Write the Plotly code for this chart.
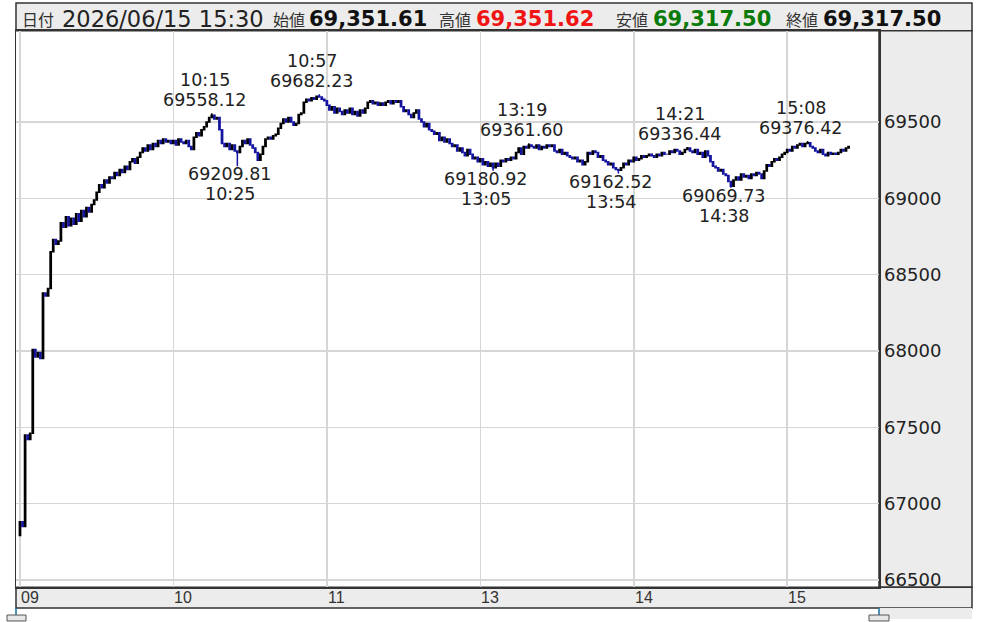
import plotly.graph_objects as go

# ---------------- data ----------------
first_open = 66790
closes = [
    66880, 66850, 67450, 67420, 67460, 68010, 67960, 67990, 67950, 68380,
    68360, 68410, 68650, 68730, 68700, 68720, 68840, 68810, 68880, 68820,
    68870, 68830, 68900, 68850, 68920, 68880, 68940, 68910, 68960, 68990,
    69040, 69090, 69070, 69120, 69100, 69140, 69130, 69170, 69150, 69190,
    69170, 69210, 69190, 69240, 69260, 69230, 69270, 69300, 69330, 69310,
    69350, 69320, 69360, 69340, 69380, 69360, 69390, 69370, 69380, 69360,
    69380, 69350, 69390, 69370, 69360, 69380, 69340, 69320, 69400, 69430,
    69410, 69450, 69470, 69500, 69530, 69545, 69520, 69530, 69450, 69360,
    69340, 69360, 69320, 69350, 69310, 69300, 69340, 69380, 69360, 69390,
    69350, 69330, 69300, 69250, 69290, 69340, 69390, 69400, 69390, 69410,
    69420, 69460, 69490, 69520, 69500, 69530, 69500, 69480, 69490, 69550,
    69560, 69630, 69650, 69640, 69660, 69650, 69670, 69665, 69650, 69640,
    69610, 69580, 69600, 69560, 69590, 69570, 69550, 69580, 69560, 69590,
    69550, 69570, 69540, 69580, 69560, 69590, 69630, 69640, 69620, 69630,
    69610, 69625, 69610, 69630, 69640, 69620, 69640, 69630, 69640, 69600,
    69570, 69580, 69550, 69530, 69560, 69580, 69520, 69500, 69470, 69490,
    69450, 69440, 69420, 69430, 69380, 69400, 69370, 69390, 69360, 69340,
    69350, 69310, 69330, 69300, 69280, 69320, 69290, 69260, 69270, 69240,
    69260, 69220, 69240, 69210, 69230, 69200, 69230, 69210, 69250, 69240,
    69260, 69250, 69270, 69260, 69300, 69330, 69290, 69340, 69330, 69350,
    69340, 69330, 69350, 69320, 69340, 69330, 69350, 69340, 69350, 69310,
    69300, 69320, 69290, 69300, 69280, 69270, 69260, 69270, 69240, 69250,
    69220, 69240, 69300, 69290, 69310, 69300, 69270, 69280, 69250, 69240,
    69220, 69230, 69200, 69190, 69185, 69200, 69230, 69220, 69250, 69240,
    69270, 69250, 69260, 69280, 69270, 69280, 69290, 69280, 69270, 69290,
    69280, 69300, 69290, 69290, 69310, 69300, 69320, 69310, 69290, 69300,
    69320, 69330, 69310, 69300, 69320, 69290, 69300, 69270, 69310, 69280,
    69240, 69210, 69200, 69180, 69190, 69160, 69150, 69110, 69080, 69120,
    69140, 69120, 69160, 69140, 69150, 69130, 69160, 69150, 69170, 69160,
    69130, 69180, 69220, 69210, 69240, 69260, 69250, 69270, 69290, 69300,
    69320, 69310, 69340, 69330, 69350, 69360, 69340, 69360, 69365, 69340,
    69330, 69310, 69300, 69320, 69290, 69280, 69300, 69290, 69295, 69290,
    69300, 69320, 69310, 69330, 69340,
]

ext_times = ["10:15", "10:25", "10:57", "13:05", "13:19", "13:54", "14:21", "14:38", "15:08"]
ext_values = [69558.12, 69209.81, 69682.23, 69180.92, 69361.60, 69162.52, 69336.44, 69069.73, 69376.42]
ext_kinds = ["high", "low", "high", "low", "high", "low", "high", "low", "high"]

x_tick_vals = ["09:00", "10:00", "11:00", "13:00", "14:00", "15:00"]
x_tick_text = ["09", "10", "11", "13", "14", "15"]
y_tick_vals = [66500, 67000, 67500, 68000, 68500, 69000, 69500]

header_date = "2026/06/15 15:30"
header_open = "69,351.61"
header_high = "69,351.62"
header_low = "69,317.50"
header_close = "69,317.50"

# ---------------- build OHLC ----------------
times = []
for h in range(9, 16):
    for m in range(60):
        t = h * 60 + m
        if (9 * 60 <= t < 11 * 60 + 30) or (12 * 60 + 30 <= t <= 15 * 60 + 30):
            times.append(f"{h:02d}:{m:02d}")
times = times[:len(closes)]

opens = [first_open] + closes[:-1]
highs = [max(o, c) for o, c in zip(opens, closes)]
lows = [min(o, c) for o, c in zip(opens, closes)]
for t, v, k in zip(ext_times, ext_values, ext_kinds):
    i = times.index(t)
    if k == "high":
        highs[i] = v
    else:
        lows[i] = v

W, H = 986, 622
PL, PR, PT, PB = 16, 879, 31, 590


def px(x):
    return x / W


def py(y):
    return 1 - y / H


fig = go.Figure()
fig.add_trace(go.Candlestick(
    x=times, open=opens, high=highs, low=lows, close=closes,
    increasing=dict(line=dict(color="#000000", width=1.5), fillcolor="#000000"),
    decreasing=dict(line=dict(color="#1414a0", width=1.5), fillcolor="#1414a0"),
    whiskerwidth=0, showlegend=False, hoverinfo="skip",
))

label_font = dict(family="DejaVu Sans", size=17.5, color="#222222")
annotations = []
for t, v, k in zip(ext_times, ext_values, ext_kinds):
    val_txt = f"{v:.2f}"
    if k == "high":
        shifts = [(val_txt, 13), (t, 33)]
    else:
        shifts = [(val_txt, -8), (t, -28)]
    for txt, ys in shifts:
        annotations.append(dict(x=t, y=v, xref="x", yref="y", text=txt, showarrow=False,
                                font=label_font, yanchor="middle", yshift=ys, xshift=-7, borderpad=0))

# x tick labels (left-aligned next to the grid lines)
for tv, tt in zip(x_tick_vals, x_tick_text):
    annotations.append(dict(x=tv, y=py(600), xref="x", yref="paper", text=tt, showarrow=False,
                            xanchor="left", yanchor="middle", xshift=-1,
                            font=dict(family="Liberation Sans Narrow, Liberation Sans", size=16, color="#333333")))

# header
hy = py(19.5)
kfont = dict(family="Noto Sans CJK JP", size=16, color="#333333")
nfont = dict(family="DejaVu Sans", size=22.5, color="#222222")


def bfont(c):
    return dict(family="DejaVu Sans", size=21, color=c)


header_parts = [
    (20, "日付", kfont), (60, header_date, nfont),
    (271, "始値", kfont), (307, f"<b>{header_open}</b>", bfont("#111111")),
    (437, "高値", kfont), (474, f"<b>{header_high}</b>", bfont("#f01414")),
    (614, "安値", kfont), (651, f"<b>{header_low}</b>", bfont("#0a7a0a")),
    (784, "終値", kfont), (821, f"<b>{header_close}</b>", bfont("#111111")),
]
for x0, txt, f in header_parts:
    annotations.append(dict(x=px(x0), y=hy, xref="paper", yref="paper", text=txt, showarrow=False,
                            xanchor="left", yanchor="middle", font=f))

edge = "#333333"
panel = "#ececec"
shapes = [
    # header box
    dict(type="rect", xref="paper", yref="paper", x0=px(PL), x1=px(972), y0=py(PT), y1=py(3),
         fillcolor=panel, line=dict(color=edge, width=1.5), layer="below"),
    # right axis panel
    dict(type="rect", xref="paper", yref="paper", x0=px(PR), x1=px(972), y0=py(PB), y1=py(PT),
         fillcolor=panel, line=dict(color=edge, width=1.5), layer="below"),
    # bottom axis panel
    dict(type="rect", xref="paper", yref="paper", x0=px(PL), x1=px(972), y0=py(611), y1=py(PB),
         fillcolor=panel, line=dict(color=edge, width=1.5), layer="below"),
    # area under right panel
    dict(type="rect", xref="paper", yref="paper", x0=px(PR), x1=px(972), y0=py(622), y1=py(611),
         fillcolor=panel, line=dict(width=0), layer="below"),
    # navigator handles
    dict(type="line", xref="paper", yref="paper", x0=px(PL), x1=px(PL), y0=py(611), y1=py(618),
         line=dict(color="#1a6fa0", width=1.5)),
    dict(type="line", xref="paper", yref="paper", x0=px(PR), x1=px(PR), y0=py(611), y1=py(618),
         line=dict(color="#1a6fa0", width=1.5)),
    dict(type="rect", xref="paper", yref="paper", x0=px(7), x1=px(26), y0=py(624), y1=py(618),
         fillcolor="#e6e6e6", line=dict(color="#555555", width=1)),
    dict(type="rect", xref="paper", yref="paper", x0=px(869), x1=px(889), y0=py(624), y1=py(618),
         fillcolor="#e6e6e6", line=dict(color="#555555", width=1)),
]

grid = "#d6d6d6"
fig.update_layout(
    width=W, height=H, autosize=False,
    margin=dict(l=0, r=0, t=0, b=0),
    paper_bgcolor="white", plot_bgcolor="white",
    showlegend=False,
    annotations=annotations, shapes=shapes,
    xaxis=dict(
        type="category", domain=[px(PL), px(PR)], range=[-1.56, 335.9],
        tickvals=x_tick_vals, showticklabels=False, ticks="",
        showgrid=True, gridcolor=grid, gridwidth=1.5,
        showline=True, mirror=True, linecolor=edge, linewidth=1.5,
        rangeslider=dict(visible=False), fixedrange=True,
    ),
    yaxis=dict(
        domain=[py(PB), py(PT)], range=[66452, 70098], side="right",
        tickvals=y_tick_vals, tickformat="d", ticks="",
        tickfont=dict(family="DejaVu Sans", size=18, color="#222222"),
        showgrid=True, gridcolor=grid, gridwidth=1.5, zeroline=False,
        showline=True, mirror=True, linecolor=edge, linewidth=1.5, fixedrange=True,
    ),
)

fig.write_html("out.html", config={"displayModeBar": False, "staticPlot": True},
               post_script="document.body.style.margin='0px';")
